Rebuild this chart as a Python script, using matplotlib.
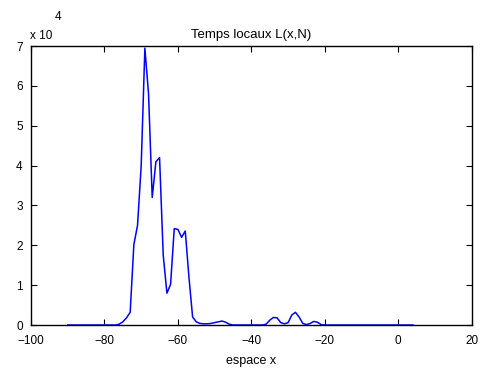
import numpy as np
import matplotlib
matplotlib.use("Agg")
import matplotlib.pyplot as plt

plt.rcParams['font.family'] = ['Liberation Sans', 'DejaVu Sans']

# positions x (entiers de -90 a 4)
x = np.arange(-90, 5)

# temps locaux L(x,N), en unites de 10^4
L = [0, 0, 0, 0, 0, 0, 0, 0, 0, 0, 0, 0, 0, 0,          # -90 .. -77
     0.02, 0.08, 0.18, 0.32, 2.02, 2.5, 4.0, 6.95, 5.8,  # -76 .. -68
     3.2, 4.1, 4.2, 1.75, 0.8, 1.02, 2.42, 2.4, 2.2,     # -67 .. -59
     2.36, 1.2, 0.2, 0.08, 0.04, 0.03, 0.03, 0.04,       # -58 .. -51
     0.06, 0.08, 0.1, 0.07, 0.02,                        # -50 .. -46
     0, 0, 0, 0, 0, 0, 0, 0, 0,                          # -45 .. -37
     0.02, 0.12, 0.19, 0.18, 0.06, 0.03, 0.06, 0.25,     # -36 .. -29
     0.32, 0.2, 0.04, 0.01, 0.04, 0.09, 0.07, 0.01]      # -28 .. -21
L = L + [0] * (len(x) - len(L))                          # -20 .. 4
L = np.array(L) * 1e4

fig = plt.figure(figsize=(4.81, 3.72), dpi=100)
ax = fig.add_axes([0.0645, 0.1263, 0.9162, 0.7497])

ax.plot(x, L / 1e4, color='blue', linewidth=1.1)

ax.set_xlim(-100, 20)
ax.set_ylim(0, 7)
ax.set_xticks([-100, -80, -60, -40, -20, 0, 20])
ax.set_yticks(range(0, 8))
ax.tick_params(direction='in', top=True, right=True, labelsize=8.5, length=4, width=0.8)
ax.tick_params(axis='x', pad=7)
ax.tick_params(axis='y', pad=6)
for s in ax.spines.values():
    s.set_linewidth(1.0)

ax.set_title('Temps locaux L(x,N)', fontsize=9.5, pad=6)
ax.set_xlabel('espace x', fontsize=9, labelpad=6)
# facteur d'echelle en haut a gauche
fig.text(0.062, 0.895, 'x 10', fontsize=8.5)
fig.text(0.113, 0.945, '4', fontsize=8.5)

fig.savefig('out.png', dpi=100)
